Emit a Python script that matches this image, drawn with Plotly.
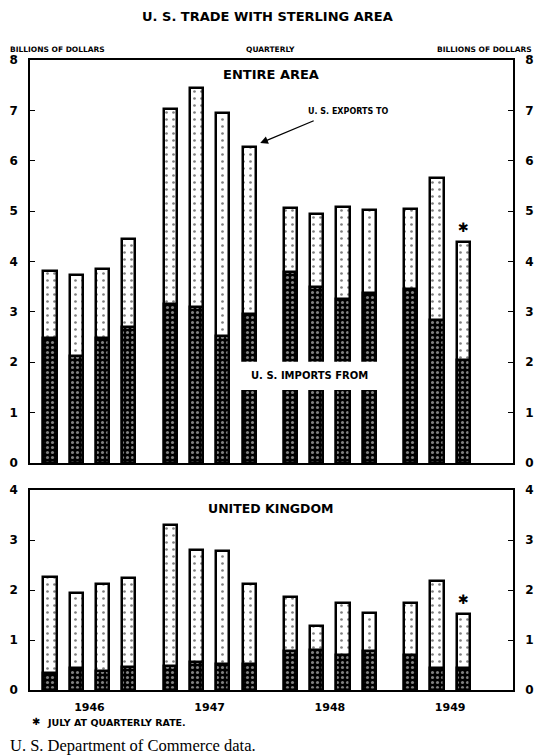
import plotly.graph_objects as go

# ---------------- data ----------------
years = ["1946", "1947", "1948", "1949"]
quarters_per_year = [4, 4, 4, 3]

entire_exports = [3.82, 3.74, 3.85, 4.44, 7.03, 7.45, 6.95, 6.27, 5.07, 4.95, 5.08, 5.03, 5.05, 5.66, 4.39]
entire_imports = [2.49, 2.12, 2.49, 2.69, 3.15, 3.09, 2.53, 2.96, 3.80, 3.50, 3.25, 3.38, 3.45, 2.84, 2.04]
uk_exports = [2.27, 1.95, 2.13, 2.24, 3.30, 2.81, 2.78, 2.13, 1.87, 1.28, 1.75, 1.55, 1.75, 2.18, 1.52]
uk_imports = [0.35, 0.45, 0.39, 0.47, 0.48, 0.57, 0.53, 0.53, 0.79, 0.80, 0.71, 0.79, 0.70, 0.45, 0.45]

left_ticks_top = [0, 1, 2, 3, 4, 5, 6, 7, 8]
left_ticks_bottom = [0, 1, 2, 3, 4]

# ---------------- layout helpers ----------------
W, H = 535, 756
ML, MR, MT, MB = 30, 22, 60, 66
YEAR_STEP = 4.57
positions = []
for yi, n in enumerate(quarters_per_year):
    for q in range(n):
        positions.append(yi * YEAR_STEP + q)
year_centers = [yi * YEAR_STEP + 1.5 for yi in range(len(years))]
XR = [-0.76, 17.6]

def px(x):
    return (x - ML) / (W - ML - MR)

def py(y):
    return (H - MB - y) / (H - MT - MB)

FONT = "DejaVu Sans"
BOLD = "DejaVu Sans"
BAR_W = 0.5

exp_pattern = dict(shape=".", fgcolor="black", bgcolor="white", size=7, solidity=0.12)
imp_pattern = dict(shape=".", fgcolor="white", bgcolor="black", size=5, solidity=0.3)

fig = go.Figure()

def add_panel(exports, imports, xa, ya):
    fig.add_trace(go.Bar(x=positions, y=exports, width=BAR_W, xaxis=xa, yaxis=ya,
                         marker=dict(color="white", line=dict(color="black", width=2.5),
                                     pattern=exp_pattern),
                         showlegend=False, hoverinfo="skip"))
    fig.add_trace(go.Bar(x=positions, y=imports, width=BAR_W, xaxis=xa, yaxis=ya,
                         marker=dict(color="black", line=dict(color="black", width=2.5),
                                     pattern=imp_pattern),
                         showlegend=False, hoverinfo="skip"))

add_panel(entire_exports, entire_imports, "x", "y")
add_panel(uk_exports, uk_imports, "x2", "y2")
# invisible traces so the right-hand axes are drawn
fig.add_trace(go.Scatter(x=[None], y=[None], xaxis="x", yaxis="y3", showlegend=False, hoverinfo="skip"))
fig.add_trace(go.Scatter(x=[None], y=[None], xaxis="x2", yaxis="y4", showlegend=False, hoverinfo="skip"))

top_dom = [py(463), 1.0]
bot_dom = [0.0, py(490)]

tickfont = dict(family=BOLD, size=12, color="black", weight="bold")
common_y = dict(showgrid=False, zeroline=False, showline=True, linecolor="black", linewidth=1.5,
                ticks="inside", ticklen=5, tickwidth=1.2, tickcolor="black", tickfont=tickfont,
                ticklabelstandoff=8, automargin=False, fixedrange=True)
common_x = dict(showgrid=False, zeroline=False, showline=True, linecolor="black", linewidth=1.5,
                mirror=True, range=XR, automargin=False, fixedrange=True)

fig.update_layout(
    width=W, height=H,
    margin=dict(l=ML, r=MR, t=MT, b=MB, autoexpand=False),
    paper_bgcolor="white", plot_bgcolor="white",
    barmode="overlay", bargap=0,
    xaxis=dict(domain=[0, 1], anchor="y", showticklabels=False, ticks="", **common_x),
    xaxis2=dict(domain=[0, 1], anchor="y2", tickmode="array", tickvals=year_centers,
                ticktext=years, ticks="", ticklabelstandoff=6,
                tickfont=dict(family=BOLD, size=11, color="black", weight="bold"), **common_x),
    yaxis=dict(domain=top_dom, anchor="x", range=[0, 8], tickvals=left_ticks_top, **common_y),
    yaxis2=dict(domain=bot_dom, anchor="x2", range=[0, 4], tickvals=left_ticks_bottom, **common_y),
    yaxis3=dict(overlaying="y", side="right", anchor="x", range=[0, 8], tickvals=left_ticks_top, **common_y),
    yaxis4=dict(overlaying="y2", side="right", anchor="x2", range=[0, 4], tickvals=left_ticks_bottom, **common_y),
)

# white gap behind "U. S. IMPORTS FROM"
fig.add_shape(type="rect", xref="x", yref="y", x0=positions[7] - 0.35, x1=positions[11] + 0.35,
              y0=1.45, y1=2.01, fillcolor="white", line=dict(width=0), layer="above")

def ann(text, x, y, size, xanchor="center", family=BOLD, bold=True, **kw):
    fig.add_annotation(text=text, x=px(x), y=py(y), xref="paper", yref="paper",
                       xanchor=xanchor, yanchor="middle", showarrow=False,
                       font=dict(family=family, size=size, color="black",
                                 weight="bold" if bold else "normal"), **kw)

ann("U. S. TRADE WITH STERLING AREA", 267, 16, 13)
ann("BILLIONS OF DOLLARS", 8, 49, 7.5, xanchor="left")
ann("QUARTERLY", 270, 49, 7.5)
ann("BILLIONS OF DOLLARS", 534, 49, 7.5, xanchor="right")
ann("ENTIRE AREA", 270.5, 74, 13)
ann("U. S. EXPORTS TO", 348, 111, 8)
ann("UNITED KINGDOM", 270.5, 508, 12.5)
ann("✱", 36, 721, 10, bold=False)
ann("JULY AT QUARTERLY RATE.", 45, 722, 9.5, xanchor="left")
ann("U. S. Department of Commerce data.", 8, 746, 16.5, xanchor="left",
    family="Liberation Serif", bold=False)

# arrow for exports label
fig.add_annotation(x=positions[7] + 0.42, y=6.35, xref="x", yref="y", text="",
                   showarrow=True, ax=55, ay=-23, arrowhead=2, arrowsize=1.2,
                   arrowwidth=1.3, arrowcolor="black")

# imports label
fig.add_annotation(x=(positions[7] + positions[11]) / 2, y=1.73, xref="x", yref="y",
                   text="U. S. IMPORTS FROM", showarrow=False,
                   font=dict(family=BOLD, size=10, color="black", weight="bold"))

# asterisks above latest bar
for ya, vals in (("y", entire_exports), ("y2", uk_exports)):
    fig.add_annotation(x=positions[-1], y=vals[-1], xref="x" if ya == "y" else "x2", yref=ya,
                       text="✱", showarrow=False, yanchor="bottom", yshift=5,
                       font=dict(family=FONT, size=13, color="black"))

fig.write_html("out.html", post_script="document.body.style.margin='0';",
               config={"displayModeBar": False})
